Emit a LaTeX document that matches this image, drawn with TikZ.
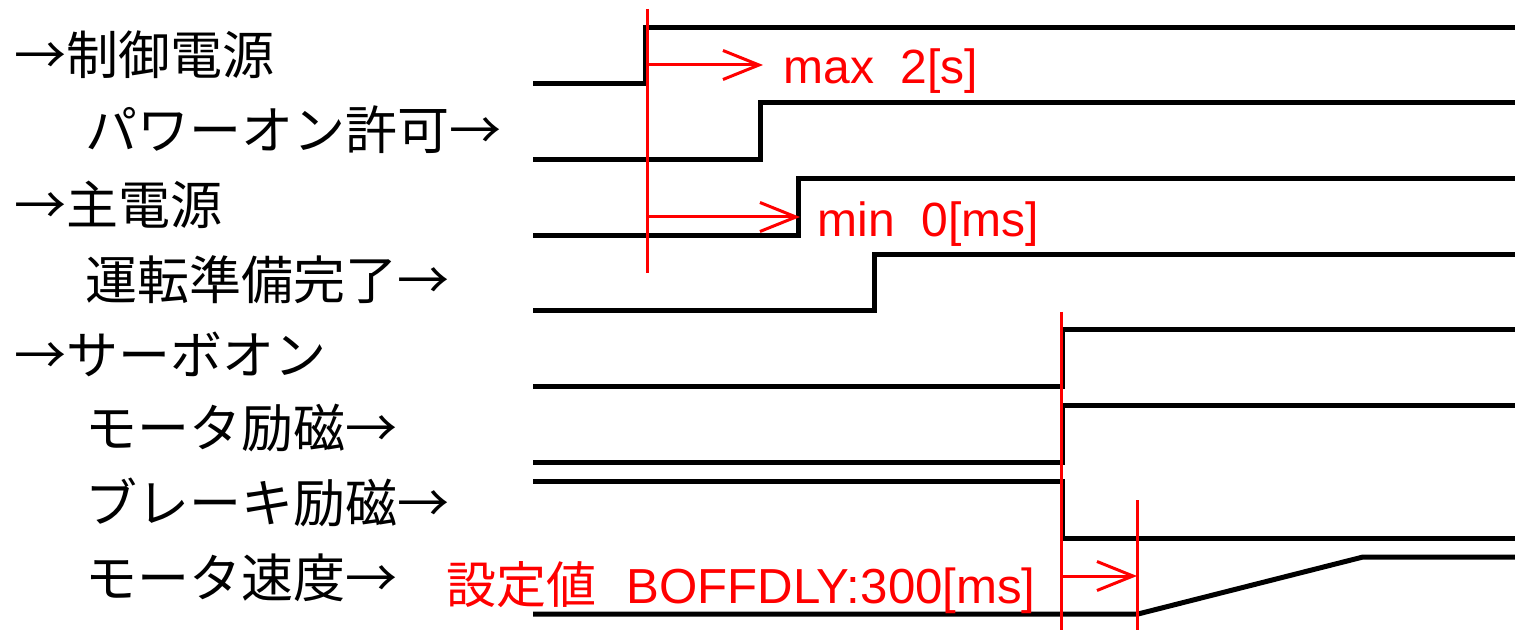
\documentclass[tikz,border=0pt]{standalone}
\usepackage{fontspec}
\setmainfont{Liberation Sans}
\newfontfamily\jpfont{Noto Sans CJK JP}
\usetikzlibrary{arrows.meta}
\begin{document}
\begin{tikzpicture}[x=0.5pt,y=-0.5pt,
  sig/.style={line width=2.5pt, line join=miter},
  markline/.style={red, line width=1.5pt},
  timearrow/.style={red, line width=1.5pt, -{Straight Barb[length=18pt,width=14.5pt]}},
  lab/.style={anchor=west, inner sep=0pt, font=\jpfont\fontsize{26pt}{30pt}\selectfont},
  redlab/.style={anchor=base west, inner sep=0pt, text=red, font=\fontsize{24pt}{28pt}\selectfont}]
\useasboundingbox (0,0) rectangle (1515,630);

% labels
\node[lab] (l1) at (14,55)  {→制御電源};
\node[lab] (l2) at (85,130) {パワーオン許可→};
\node[lab] (l3) at (14,205) {→主電源};
\node[lab] (l4) at (85,280) {運転準備完了→};
\node[lab] (l5) at (14,354) {→サーボオン};
\node[lab] (l6) at (85,428) {モータ励磁→};
\node[lab] (l7) at (85,502) {ブレーキ励磁→};
\node[lab] (l8) at (85,578) {モータ速度→};

% waveforms
\draw[sig] (533,84)  -- (645,84)  -- (645,28)  -- (1515,28);
\draw[sig] (533,160) -- (760,160) -- (760,103) -- (1515,103);
\draw[sig] (533,236) -- (798,236) -- (798,179) -- (1515,179);
\draw[sig] (533,311) -- (874,311) -- (874,255) -- (1515,255);
\draw[sig] (533,387) -- (1062,387) -- (1062,330) -- (1515,330);
\draw[sig] (533,463) -- (1062,463) -- (1062,406) -- (1515,406);
\draw[sig] (533,481) -- (1062,481) -- (1062,538) -- (1515,538);
\draw[sig] (533,614) -- (1138,614) -- (1363,557) -- (1515,557);

% red marker lines
\coordinate (r1t) at (647,9);    \coordinate (r1b) at (647,273);
\coordinate (r2t) at (1061,312); \coordinate (r2b) at (1061,630);
\coordinate (r3t) at (1137,500); \coordinate (r3b) at (1137,630);
\draw[markline] (r1t) -- (r1b);
\draw[markline] (r2t) -- (r2b);
\draw[markline] (r3t) -- (r3b);

% timing arrows
\coordinate (a1s) at (647,65);   \coordinate (a1e) at (763,65);
\coordinate (a2s) at (647,217);  \coordinate (a2e) at (800,217);
\coordinate (a3s) at (1061,576); \coordinate (a3e) at (1137,576);
\draw[timearrow] (a1s) -- (a1e);
\draw[timearrow] (a2s) -- (a2e);
\draw[timearrow] (a3s) -- (a3e);

% red texts
\node[redlab] (t1) at (783,84)  {max\ \ 2[s]};
\node[redlab] (t2) at (817,237) {min\ \ 0[ms]};
\node[redlab] (t3) at (446,603) {{\jpfont\fontsize{25pt}{28pt}\selectfont 設定値}\hspace{15pt}{\fontsize{24.6pt}{28pt}\selectfont BOFFDLY:300[ms]}};
\end{tikzpicture}
\end{document}
